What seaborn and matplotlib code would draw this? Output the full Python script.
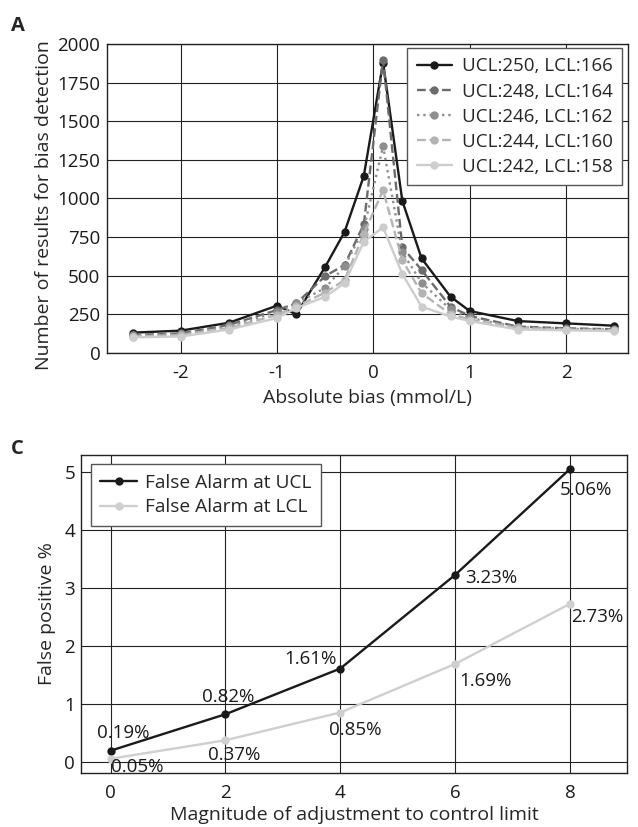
import matplotlib
matplotlib.use('Agg')
import matplotlib.pyplot as plt
import seaborn as sns

# panel A data
bias = [-2.5, -2, -1.5, -1, -0.8, -0.5, -0.3, -0.1, 0.1, 0.3, 0.5, 0.8, 1, 1.5, 2, 2.5]
ucl250 = [130, 143, 194, 305, 249, 557, 782, 1145, 1880, 983, 611, 363, 270, 205, 190, 175]
ucl248 = [115, 125, 180, 277, 320, 497, 568, 832, 1898, 683, 536, 298, 238, 169, 158, 152]
ucl246 = [115, 120, 170, 265, 320, 420, 560, 800, 1339, 650, 454, 280, 225, 165, 155, 150]
ucl244 = [105, 115, 160, 245, 300, 390, 470, 770, 1053, 600, 385, 250, 215, 160, 150, 145]
ucl242 = [100, 105, 150, 225, 290, 363, 450, 719, 812, 510, 298, 235, 205, 150, 145, 140]
series_names = ['UCL:250, LCL:166', 'UCL:248, LCL:164', 'UCL:246, LCL:162',
                'UCL:244, LCL:160', 'UCL:242, LCL:158']

# panel C data
adjust = [0, 2, 4, 6, 8]
fa_ucl = [0.19, 0.82, 1.61, 3.23, 5.06]
fa_lcl = [0.05, 0.37, 0.85, 1.69, 2.73]

sns.set_style('white')
plt.rcParams['font.family'] = ['Open Sans', 'DejaVu Sans']
plt.rcParams['axes.unicode_minus'] = False

fig = plt.figure(figsize=(6.38, 8.27), dpi=100)
ax1 = fig.add_axes([0.167, 0.5735, 0.817, 0.3733])
ax2 = fig.add_axes([0.1265, 0.0657, 0.857, 0.384])

grid_kw = dict(color='#222222', linewidth=0.8)

# ---- panel A
styles = [('#1a1a1a', '-'), ('#6b6b6b', '--'), ('#8e8e8e', ':'),
          ('#b4b4b4', '--'), ('#cdcdcd', '-')]
for vals, name, (col, ls) in zip([ucl250, ucl248, ucl246, ucl244, ucl242], series_names, styles):
    sns.lineplot(x=bias, y=vals, ax=ax1, color=col, linestyle=ls, linewidth=1.7,
                 marker='o', markersize=6, markeredgewidth=0, label=name)

ax1.set_xlim(-2.77, 2.64)
ax1.set_ylim(0, 2000)
ax1.set_xticks([-2, -1, 0, 1, 2])
ax1.set_yticks(range(0, 2001, 250))
ax1.grid(True, **grid_kw)
ax1.set_axisbelow(True)
ax1.tick_params(axis='both', length=0, labelsize=13.5, colors='#1a1a1a')
ax1.tick_params(axis='x', pad=8)
ax1.tick_params(axis='y', pad=4.5)
ax1.set_xlabel('Absolute bias (mmol/L)', fontsize=14, labelpad=5)
ax1.set_ylabel('Number of results for bias detection', fontsize=14, labelpad=3)
ax1.yaxis.label.set_y(0.478)
leg1 = ax1.legend(loc='upper right', bbox_to_anchor=(0.9885, 0.987), borderaxespad=0,
                  fontsize=13.5, frameon=True, fancybox=False, framealpha=1,
                  edgecolor='#555555', handlelength=1.9, labelspacing=0.38,
                  handletextpad=0.5, borderpad=0.5)
leg1.get_frame().set_linewidth(1)
for s in ax1.spines.values():
    s.set_color('#222222')
    s.set_linewidth(1)

# ---- panel C
sns.lineplot(x=adjust, y=fa_ucl, ax=ax2, color='#1a1a1a', linewidth=1.7,
             marker='o', markersize=6, markeredgewidth=0, label='False Alarm at UCL')
sns.lineplot(x=adjust, y=fa_lcl, ax=ax2, color='#cfcfcf', linewidth=1.7,
             marker='o', markersize=6, markeredgewidth=0, label='False Alarm at LCL')

ax2.set_xlim(-0.52, 9.0)
ax2.set_ylim(-0.19, 5.3)
ax2.set_xticks(adjust)
ax2.set_yticks(range(0, 6))
ax2.grid(True, **grid_kw)
ax2.set_axisbelow(True)
ax2.tick_params(axis='both', length=0, labelsize=13.5, colors='#1a1a1a')
ax2.tick_params(axis='x', pad=8)
ax2.tick_params(axis='y', pad=4)
ax2.set_xlabel('Magnitude of adjustment to control limit', fontsize=14, labelpad=3)
ax2.set_ylabel('False positive %', fontsize=14, labelpad=6)
leg2 = ax2.legend(loc='upper left', bbox_to_anchor=(0.0183, 0.9717), borderaxespad=0,
                  fontsize=13.8, frameon=True, fancybox=False, framealpha=1,
                  edgecolor='#555555', handlelength=1.9, labelspacing=0.35,
                  handletextpad=0.45, borderpad=0.5)
leg2.get_frame().set_linewidth(1)
for s in ax2.spines.values():
    s.set_color('#222222')
    s.set_linewidth(1)

# value labels, offsets in pixels from the point
ucl_offsets = [(13, 18), (3, 17), (-30, 10), (36, -3), (16, -21)]
lcl_offsets = [(27, -8), (9, -15), (15, -17), (30, -17), (27, -13)]
for xv, yv, off in zip(adjust, fa_ucl, ucl_offsets):
    ax2.annotate(f'{yv:.2f}%', (xv, yv), xytext=off, textcoords='offset pixels',
                 ha='center', va='center', fontsize=13.5, color='#1a1a1a')
for xv, yv, off in zip(adjust, fa_lcl, lcl_offsets):
    ax2.annotate(f'{yv:.2f}%', (xv, yv), xytext=off, textcoords='offset pixels',
                 ha='center', va='center', fontsize=13.5, color='#1a1a1a')

fig.text(0.0274, 0.968, 'A', fontsize=14.5, fontweight='bold', ha='center', va='center')
fig.text(0.0274, 0.457, 'C', fontsize=14.5, fontweight='bold', ha='center', va='center')

fig.savefig('out.png', dpi=100)
